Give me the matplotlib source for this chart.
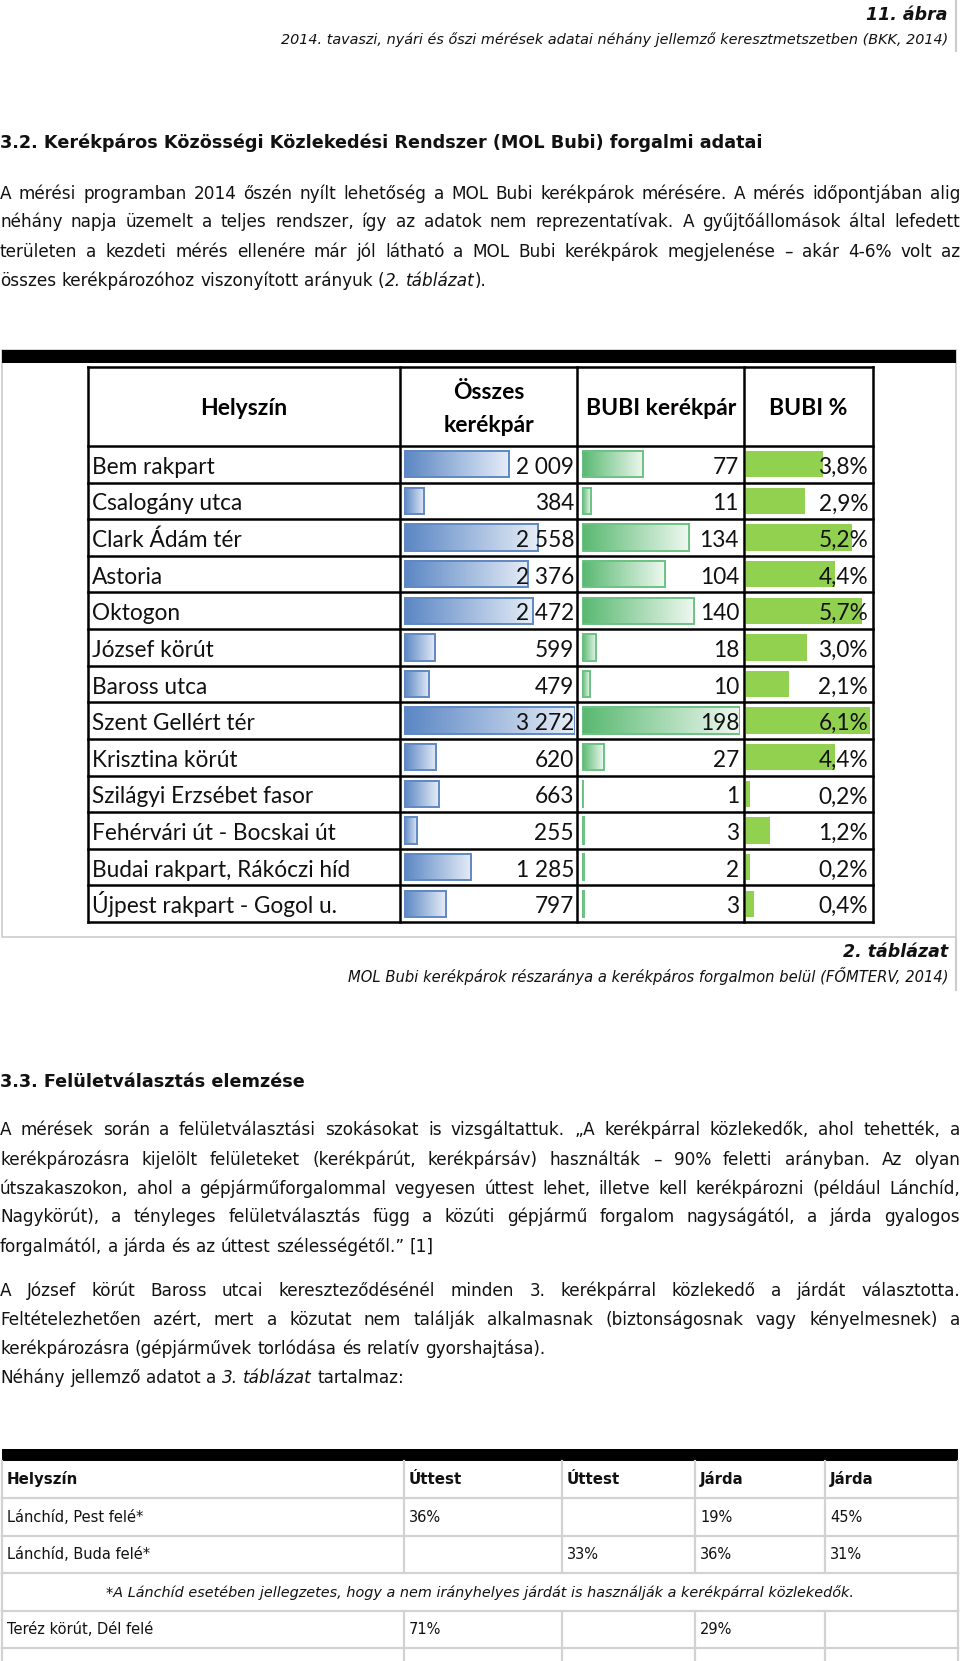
# -*- coding: utf-8 -*-
import numpy as np
import matplotlib
matplotlib.use('Agg')
import matplotlib.pyplot as plt
from matplotlib.colors import LinearSegmentedColormap

W, H = 960, 1661

# 2. táblázat adatai
helyszin = ['Bem rakpart', 'Csalogány utca', 'Clark Ádám tér', 'Astoria', 'Oktogon',
            'József körút', 'Baross utca', 'Szent Gellért tér', 'Krisztina körút',
            'Szilágyi Erzsébet fasor', 'Fehérvári út - Bocskai út',
            'Budai rakpart, Rákóczi híd', 'Újpest rakpart - Gogol u.']
osszes = [2009, 384, 2558, 2376, 2472, 599, 479, 3272, 620, 663, 255, 1285, 797]
bubi = [77, 11, 134, 104, 140, 18, 10, 198, 27, 1, 3, 2, 3]
bubi_pct = [3.8, 2.9, 5.2, 4.4, 5.7, 3.0, 2.1, 6.1, 4.4, 0.2, 1.2, 0.2, 0.4]
fejlec = ['Helyszín', 'Összes\nkerékpár', 'BUBI kerékpár', 'BUBI %']

# 3. táblázat adatai
t3_fejlec = ['Helyszín', 'Úttest', 'Úttest', 'Járda', 'Járda']
t3_sorok = [
    ['Lánchíd, Pest felé*', '36%', '', '19%', '45%'],
    ['Lánchíd, Buda felé*', '', '33%', '36%', '31%'],
    None,  # lábjegyzet sor
    ['Teréz körút, Dél felé', '71%', '', '29%', ''],
    ['', '', '', '', ''],
]
t3_labjegyzet = '*A Lánchíd esetében jellegzetes, hogy a nem irányhelyes járdát is használják a kerékpárral közlekedők.'

bekezdes1 = [
    'A mérési programban 2014 őszén nyílt lehetőség a MOL Bubi kerékpárok mérésére. A mérés időpontjában alig',
    'néhány napja üzemelt a teljes rendszer, így az adatok nem reprezentatívak. A gyűjtőállomások által lefedett',
    'területen a kezdeti mérés ellenére már jól látható a MOL Bubi kerékpárok megjelenése – akár 4-6% volt az',
    'összes kerékpározóhoz viszonyított arányuk (*2. táblázat*).',
]
bekezdes2 = [
    'A mérések során a felületválasztási szokásokat is vizsgáltattuk. „A kerékpárral közlekedők, ahol tehették, a',
    'kerékpározásra kijelölt felületeket (kerékpárút, kerékpársáv) használták – 90% feletti arányban. Az olyan',
    'útszakaszokon, ahol a gépjárműforgalommal vegyesen úttest lehet, illetve kell kerékpározni (például Lánchíd,',
    'Nagykörút), a tényleges felületválasztás függ a közúti gépjármű forgalom nagyságától, a járda gyalogos',
    'forgalmától, a járda és az úttest szélességétől.” [1]',
]
bekezdes3 = [
    'A József körút Baross utcai kereszteződésénél minden 3. kerékpárral közlekedő a járdát választotta.',
    'Feltételezhetően azért, mert a közutat nem találják alkalmasnak (biztonságosnak vagy kényelmesnek) a',
    'kerékpározásra (gépjárművek torlódása és relatív gyorshajtása).',
    'Néhány jellemző adatot a *3. táblázat* tartalmaz:',
]

BODY = 'DejaVu Sans'
CAL = 'Lato'
FS = 12.2
TXT = '#111111'

fig = plt.figure(figsize=(W / 100, H / 100), dpi=100)
ax = fig.add_axes([0, 0, 1, 1])
ax.set_xlim(0, W)
ax.set_ylim(H, 0)
ax.axis('off')
renderer = fig.canvas.get_renderer()


def bl(y, size):
    """függőleges közép -> alapvonal (pixelben)"""
    return y + 0.34 * size * 100 / 72


def parse(line):
    """szavak -> [(szoveg, dolt)]"""
    words, it = [], False
    for raw in line.split(' '):
        segs = []
        for k, p in enumerate(raw.split('*')):
            if k > 0:
                it = not it
            if p:
                segs.append((p, it))
        words.append(segs)
    return words


def line_text(line, y, justify=True, x0=0, x1=W, size=FS):
    words = parse(line)
    objs, widths = [], []
    for w in words:
        row, ww = [], 0
        for s, it in w:
            t = ax.text(0, bl(y, size), s, fontsize=size, family=BODY,
                        style='italic' if it else 'normal', va='baseline', ha='left', color=TXT)
            wd = t.get_window_extent(renderer).width
            row.append((t, wd))
            ww += wd
        objs.append(row)
        widths.append(ww)
    if justify and len(words) > 1:
        gap = (x1 - x0 - sum(widths)) / (len(words) - 1)
    else:
        gap = 0.32 * size * 100 / 72
    x = x0
    for row, ww in zip(objs, widths):
        xx = x
        for t, wd in row:
            t.set_x(xx)
            xx += wd
        x += ww + gap


def paragraph(lines, ys, last_left=1):
    for i, (l, y) in enumerate(zip(lines, ys)):
        line_text(l, y, justify=i < len(lines) - last_left)


# fejléc
ax.text(948, bl(14, 12.5), '11. ábra', fontsize=12.5, family=BODY, weight='bold', style='italic',
        ha='right', va='baseline', color=TXT)
ax.text(948, bl(39, 10.4), '2014. tavaszi, nyári és őszi mérések adatai néhány jellemző keresztmetszetben (BKK, 2014)',
        fontsize=10.4, family=BODY, style='italic', ha='right', va='baseline', color=TXT)
ax.plot([956, 956], [0, 51], color='#cccccc', lw=1.5)

ax.text(0, bl(142, 12.7), '3.2. Kerékpáros Közösségi Közlekedési Rendszer (MOL Bubi) forgalmi adatai',
        fontsize=12.7, family=BODY, weight='bold', ha='left', va='baseline', color=TXT)
paragraph(bekezdes1, [193, 221.5, 251, 280])

# 2. táblázat keret
ax.add_patch(plt.Rectangle((2, 350), 954, 587, fill=False, ec='#cccccc', lw=1.2))
ax.add_patch(plt.Rectangle((2, 350), 954, 13, fc='black', ec='none'))

n = len(helyszin)
tx = [88, 400, 577, 744, 873]
ty0, ty1, hy = 367, 922, 446
rh = (ty1 - hy) / n
lw_t = 1.8
for x in tx:
    ax.plot([x, x], [ty0, ty1], color='black', lw=lw_t, solid_capstyle='projecting')
for y in [ty0, hy] + [hy + rh * (i + 1) for i in range(n)]:
    ax.plot([tx[0], tx[-1]], [y, y], color='black', lw=lw_t, solid_capstyle='projecting')

HFS = 16.5
ax.text(244, bl(407, HFS), fejlec[0], fontsize=HFS, family=CAL, weight='bold', ha='center', va='baseline')
ax.text(489, bl(391, HFS), fejlec[1].split('\n')[0], fontsize=HFS, family=CAL, weight='bold',
        ha='center', va='baseline')
ax.text(489, bl(424, HFS), fejlec[1].split('\n')[1], fontsize=HFS, family=CAL, weight='bold',
        ha='center', va='baseline')
ax.text(661, bl(407, HFS), fejlec[2], fontsize=HFS, family=CAL, weight='bold', ha='center', va='baseline')
ax.text(808, bl(407, HFS), fejlec[3], fontsize=HFS, family=CAL, weight='bold', ha='center', va='baseline')

blue = LinearSegmentedColormap.from_list('kek', ['#5a86c4', '#e6edf7'])
green = LinearSegmentedColormap.from_list('zold', ['#58b870', '#eef8f0'])
grad = np.linspace(0, 1, 256).reshape(1, -1)


def data_bars(x0, x1, values, cmap=None, edge=None, solid=None):
    bax = fig.add_axes([x0 / W, 1 - ty1 / H, (x1 - x0) / W, (ty1 - hy) / H])
    bax.axis('off')
    yy = np.arange(n)
    hb = 0.72
    if solid:
        bax.barh(yy, values, height=hb, color=solid, lw=0)
    else:
        for i, v in enumerate(values):
            bax.imshow(grad, cmap=cmap, aspect='auto', extent=(0, v, i + hb / 2, i - hb / 2),
                       interpolation='bilinear')
        bax.barh(yy, values, height=hb, fc='none', ec=edge, lw=1.4)
    bax.set_xlim(0, max(values))
    bax.set_ylim(n - 0.5, -0.5)
    return bax


data_bars(404, 575, osszes, cmap=blue, edge='#6088c2')
data_bars(582, 740, bubi, cmap=green, edge='#6cc283')
data_bars(746, 870, bubi_pct, solid='#92d050')

# számok a sávok fölött
top = fig.add_axes([0, 0, 1, 1])
top.set_xlim(0, W)
top.set_ylim(H, 0)
top.axis('off')
RFS = 16.3
for i, nm in enumerate(helyszin):
    yb = hy + rh * (i + 0.5) + 9.5
    top.text(92, yb, nm, fontsize=RFS, family=CAL, ha='left', va='baseline', color=TXT)
    top.text(574, yb, f'{osszes[i]:,}'.replace(',', ' '), fontsize=RFS, family=CAL,
             ha='right', va='baseline', color=TXT)
    top.text(739, yb, str(bubi[i]), fontsize=RFS, family=CAL, ha='right', va='baseline', color=TXT)
    top.text(868, yb, f'{bubi_pct[i]:.1f}%'.replace('.', ','), fontsize=RFS, family=CAL,
             ha='right', va='baseline', color=TXT)

# feliratok a táblázat alatt
ax.text(948, bl(951, 12.5), '2. táblázat', fontsize=12.5, family=BODY, weight='bold', style='italic',
        ha='right', va='baseline', color=TXT)
ax.text(948, bl(977, 10.6), 'MOL Bubi kerékpárok részaránya a kerékpáros forgalmon belül (FŐMTERV, 2014)',
        fontsize=10.6, family=BODY, style='italic', ha='right', va='baseline', color=TXT)
ax.plot([956, 956], [938, 990], color='#cccccc', lw=1.5)

ax.text(0, bl(1081, 12.7), '3.3. Felületválasztás elemzése', fontsize=12.7, family=BODY, weight='bold',
        ha='left', va='baseline', color=TXT)
paragraph(bekezdes2, [1129.5, 1159, 1188, 1216.5, 1246])
paragraph(bekezdes3, [1290.5, 1319, 1348, 1377.5], last_left=2)

# 3. táblázat
ax.add_patch(plt.Rectangle((2, 1449), 956, 12, fc='black', ec='none'))
gx = [2, 404, 562, 695, 825, 958]
gy = [1461, 1498, 1536, 1573, 1611, 1648, 1686]
gc = '#d2d2d2'
for y in gy[1:-1]:
    ax.plot([2, 958], [y, y], color=gc, lw=1.6)
for r in range(len(gy) - 1):
    cols = [gx[0], gx[-1]] if r == 3 else gx
    for x in cols:
        ax.plot([x, x], [gy[r], gy[r + 1]], color=gc, lw=1.6)

TFS = 10.5
for c, s in enumerate(t3_fejlec):
    ax.text(gx[c] + 5, bl((gy[0] + gy[1]) / 2, TFS), s, fontsize=10.8, family=BODY, weight='bold',
            ha='left', va='baseline', color=TXT)
for r, row in enumerate(t3_sorok):
    yc = (gy[r + 1] + gy[r + 2]) / 2
    if row is None:
        ax.text(480, bl(yc, TFS), t3_labjegyzet, fontsize=10.4, family=BODY, style='italic',
                ha='center', va='baseline', color=TXT)
        continue
    for c, s in enumerate(row):
        if s:
            ax.text(gx[c] + 5, bl(yc, TFS), s, fontsize=TFS, family=BODY, ha='left', va='baseline',
                    color=TXT)

fig.savefig('out.png', dpi=100)
